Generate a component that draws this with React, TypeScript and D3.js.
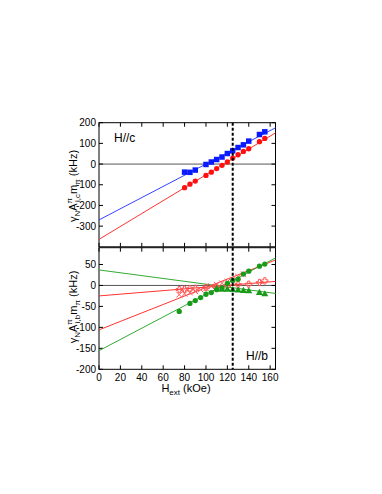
import { useEffect, useRef } from "react";
import * as d3 from "d3";

// H//c panel
const hTop = [80, 85, 90, 100, 105, 110, 115, 120, 125, 130, 135, 140, 150, 155];
const blueSquares = [-39, -40, -29, -2, 10, 22, 34, 51, 64, 80, 93, 111, 143, 156];
const redCircles = [-114, -97, -82, -55, -39, -22, -6, 10, 29, 45, 61, 74, 108, 124];
// fit lines: [intercept, slope]
const blueFit = [-270, 2.7];
const redFit = [-364, 3.12];

// H//b panel
const hGreen = [75, 85, 90, 95, 100, 105, 110, 115, 120, 125, 130, 135, 140, 150, 155];
const greenCircles = [-62, -43, -36, -29, -21, -17, -10, -6, 5, 12, 15, 27, 34, 46, 51];
const hTri = [110, 115, 120, 125, 130, 135, 140, 150, 155];
const greenTriangles = [-8, -10, -10, -11, -12, -13, -14, -18, -21];
const hCross = [75, 80, 85, 90, 95, 100, 105, 110, 115, 120, 125, 130, 135];
const redCrosses = [-22, -20, -17, -14, -10, -7, -2, 2, 5, 9, 14, 21, 27];
const hPlus = [75, 80, 85, 90, 100, 110, 120, 130, 140, 150, 155];
const redPlus = [-10, -9, -8, -7, -5, -3, -1, 2, 3, 7, 11];
const greenFallFit = [37, -0.34];
const redFlatFit = [-25, 0.21];
const redSteepFit = [-106, 1.01];
const greenSteepFit = [-155.6, 1.34];

const xTicks = [0, 20, 40, 60, 80, 100, 120, 140, 160];
const yTopTicks = [-300, -200, -100, 0, 100, 200];
const yBotTicks = [-200, -150, -100, -50, 0, 50];
const dashedH = 125;

const FONT = "'Liberation Sans', Arial, Helvetica, sans-serif";

export default function App() {
  const ref = useRef<SVGSVGElement | null>(null);

  useEffect(() => {
    if (!ref.current) return;
    const svg = d3.select(ref.current);
    svg.selectAll("*").remove();

    const x = d3.scaleLinear().domain([0, 165]).range([99, 275.5]);
    const yTop = d3.scaleLinear().domain([-400, 200]).range([246.8, 122.7]);
    const yBot = d3.scaleLinear().domain([-200, 90]).range([369.3, 247.7]);
    const x0 = 99, x1 = 275.5;

    const panel = (
      y: d3.ScaleLinear<number, number>,
      yTicks: number[],
      showX: boolean
    ) => {
      const [yb, yt] = y.range();
      const g = svg.append("g");
      // zero line
      g.append("line")
        .attr("x1", x0).attr("x2", x1)
        .attr("y1", y(0)).attr("y2", y(0))
        .attr("stroke", "#555").attr("stroke-width", 1);
      // inward ticks on all sides
      const tl = 4;
      xTicks.forEach((t) => {
        g.append("line").attr("x1", x(t)).attr("x2", x(t)).attr("y1", yb).attr("y2", yb - tl).attr("stroke", "#000");
        g.append("line").attr("x1", x(t)).attr("x2", x(t)).attr("y1", yt).attr("y2", yt + tl).attr("stroke", "#000");
      });
      yTicks.forEach((t) => {
        g.append("line").attr("x1", x0).attr("x2", x0 + tl).attr("y1", y(t)).attr("y2", y(t)).attr("stroke", "#000");
        g.append("line").attr("x1", x1).attr("x2", x1 - tl).attr("y1", y(t)).attr("y2", y(t)).attr("stroke", "#000");
        g.append("text")
          .attr("x", x0 - 3).attr("y", y(t) + 3.5)
          .attr("text-anchor", "end")
          .attr("font-size", 10).attr("font-family", FONT)
          .text(String(t));
      });
      if (showX) {
        xTicks.forEach((t) => {
          g.append("text")
            .attr("x", x(t)).attr("y", yb + 12)
            .attr("text-anchor", "middle")
            .attr("font-size", 10).attr("font-family", FONT)
            .text(String(t));
        });
      }
      g.append("rect")
        .attr("x", x0).attr("y", yt)
        .attr("width", x1 - x0).attr("height", yb - yt)
        .attr("fill", "none").attr("stroke", "#000").attr("stroke-width", 1);
      return g;
    };

    const fitLine = (
      g: d3.Selection<SVGGElement, unknown, null, undefined>,
      y: d3.ScaleLinear<number, number>,
      fit: number[],
      color: string
    ) => {
      const line = d3.line<number>().x((h) => x(h)).y((h) => y(fit[0] + fit[1] * h));
      g.append("path")
        .attr("d", line([0, 165]))
        .attr("fill", "none").attr("stroke", color).attr("stroke-width", 1);
    };

    const markers = (
      g: d3.Selection<SVGGElement, unknown, null, undefined>,
      y: d3.ScaleLinear<number, number>,
      hs: number[],
      vs: number[],
      type: d3.SymbolType,
      size: number,
      color: string,
      stroke = false
    ) => {
      g.selectAll(null)
        .data(hs.map((h, i) => [h, vs[i]]))
        .enter()
        .append("path")
        .attr("d", d3.symbol(type, size)())
        .attr("transform", (d) => `translate(${x(d[0])},${y(d[1])})`)
        .attr("fill", stroke ? "none" : color)
        .attr("stroke", stroke ? color : "none")
        .attr("stroke-width", stroke ? 1 : 0);
    };

    const blue = "#0a1aff", red = "#ff1010", green = "#1a9a1a";

    const gt = panel(yTop, yTopTicks, false);
    fitLine(gt, yTop, blueFit, "#3344ff");
    fitLine(gt, yTop, redFit, "#ff3333");
    markers(gt, yTop, hTop, blueSquares, d3.symbolSquare, 30, blue);
    markers(gt, yTop, hTop, redCircles, d3.symbolCircle, 22, red);

    const gb = panel(yBot, yBotTicks, true);
    fitLine(gb, yBot, greenFallFit, "#33aa33");
    fitLine(gb, yBot, redFlatFit, "#ff3333");
    fitLine(gb, yBot, redSteepFit, "#ff3333");
    fitLine(gb, yBot, greenSteepFit, "#33aa33");
    markers(gb, yBot, hCross, redCrosses, d3.symbolX, 22, "#ff5555", true);
    markers(gb, yBot, hPlus, redPlus, d3.symbolCross, 22, "#ff5555", true);
    markers(gb, yBot, hTri, greenTriangles, d3.symbolTriangle, 22, green);
    markers(gb, yBot, hGreen, greenCircles, d3.symbolCircle, 22, green);

    // dashed vertical line
    svg.append("line")
      .attr("x1", x(dashedH)).attr("x2", x(dashedH))
      .attr("y1", yTop.range()[1]).attr("y2", yBot.range()[0])
      .attr("stroke", "#000").attr("stroke-width", 2)
      .attr("stroke-dasharray", "3,2");

    // panel labels
    svg.append("text").attr("x", 114).attr("y", 142)
      .attr("font-size", 12).attr("font-family", FONT).text("H//c");
    svg.append("text").attr("x", 246).attr("y", 360)
      .attr("font-size", 12).attr("font-family", FONT).text("H//b");

    // y labels
    const yLabel = (cy: number, sub: string) => {
      const t = svg.append("text")
        .attr("transform", `translate(77,${cy}) rotate(-90)`)
        .attr("text-anchor", "middle")
        .attr("font-size", 11).attr("font-family", FONT);
      t.append("tspan").text("γ");
      t.append("tspan").attr("font-size", 8).attr("dy", 3).text("N");
      t.append("tspan").attr("dy", -3).text("A");
      t.append("tspan").attr("font-size", 8).attr("dy", -5).text("π");
      t.append("tspan").attr("font-size", 8).attr("dx", -4).attr("dy", 8).text(sub);
      t.append("tspan").attr("dy", -3).text("m");
      t.append("tspan").attr("font-size", 8).attr("dy", 3).text("π");
      t.append("tspan").attr("dy", -3).text(" (kHz)");
    };
    yLabel(186, "i,c");
    yLabel(307, "i,b");

    // x label
    const xl = svg.append("text")
      .attr("x", 186).attr("y", 392)
      .attr("text-anchor", "middle")
      .attr("font-size", 11).attr("font-family", FONT);
    xl.append("tspan").text("H");
    xl.append("tspan").attr("font-size", 8).attr("dy", 3).text("ext");
    xl.append("tspan").attr("dy", -3).text(" (kOe)");
  }, []);

  return (
    <svg
      ref={ref}
      width={382}
      height={494}
      style={{ position: "absolute", left: 0, top: 0, background: "#fff" }}
    />
  );
}
